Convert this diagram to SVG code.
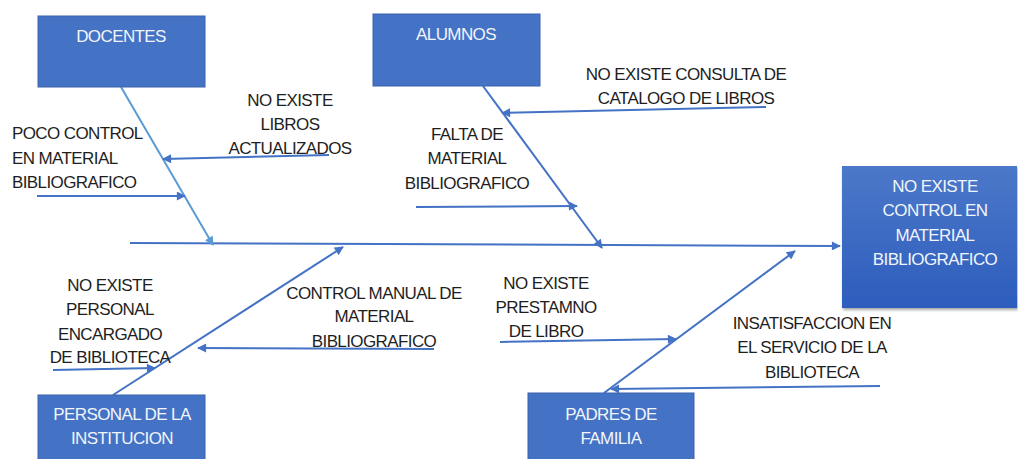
<svg xmlns="http://www.w3.org/2000/svg" width="1018" height="459" viewBox="0 0 1018 459">
<defs>
<style>
.box{fill:#4472C4;stroke:#3a62ad;stroke-width:1}
.bt{font-family:"Liberation Sans",Arial,sans-serif;font-size:17px;letter-spacing:-0.6px;fill:#f2f5fb;text-anchor:middle}
.lt{font-family:"Liberation Sans",Arial,sans-serif;font-size:17px;letter-spacing:-0.6px;fill:#1e1e1e;text-anchor:middle}
.ln{stroke:#4472C4;stroke-width:2;fill:none;marker-end:url(#ah)}
.ln2{stroke:#5B9BD5;stroke-width:2;fill:none;marker-end:url(#ah2)}
</style>
<marker id="ah" viewBox="0 0 10 10" refX="9" refY="5" markerWidth="10" markerHeight="9" markerUnits="userSpaceOnUse" orient="auto"><path d="M0,0 L10,5 L0,10 z" fill="#4472C4"/></marker>
<marker id="ah2" viewBox="0 0 10 10" refX="9" refY="5" markerWidth="10" markerHeight="9" markerUnits="userSpaceOnUse" orient="auto"><path d="M0,0 L10,5 L0,10 z" fill="#5B9BD5"/></marker>
<linearGradient id="eg" x1="0" y1="0" x2="0" y2="1"><stop offset="0" stop-color="#4c78c9"/><stop offset="1" stop-color="#2d5dbd"/></linearGradient>
<filter id="sh" x="-10%" y="-10%" width="130%" height="130%"><feDropShadow dx="1" dy="2" stdDeviation="1.5" flood-color="#000" flood-opacity="0.35"/></filter>
</defs>
<rect width="1018" height="459" fill="#ffffff"/>
<g id="connectors">
<line class="ln" x1="130" y1="243" x2="840" y2="246"/>
<line class="ln2" x1="121" y1="87" x2="213" y2="245"/>
<line class="ln" x1="483" y1="86" x2="602" y2="248"/>
<line class="ln" x1="113" y1="395" x2="343" y2="247"/>
<line class="ln" x1="604" y1="393" x2="795" y2="251"/>
<line class="ln" x1="329" y1="155" x2="163" y2="159"/>
<line class="ln" x1="37" y1="196" x2="185" y2="196"/>
<line class="ln" x1="766" y1="107" x2="502" y2="113"/>
<line class="ln" x1="416" y1="207" x2="577" y2="206"/>
<line class="ln" x1="53" y1="370" x2="155" y2="368"/>
<line class="ln" x1="434" y1="349" x2="198" y2="348"/>
<line class="ln" x1="500" y1="342" x2="676" y2="339"/>
<line class="ln" x1="880" y1="386" x2="611" y2="389"/>
</g>
<g id="docentes"><rect class="box" x="38" y="16" width="167" height="71"/><text class="bt" x="121" y="42">DOCENTES</text></g>
<g id="alumnos"><rect class="box" x="373" y="14" width="167" height="72"/><text class="bt" x="456" y="40">ALUMNOS</text></g>
<g id="personal"><rect class="box" x="38" y="395" width="167" height="70"/><text class="bt" x="122" y="420">PERSONAL DE LA</text><text class="bt" x="122" y="444">INSTITUCION</text></g>
<g id="padres"><rect class="box" x="528" y="393" width="166" height="72"/><text class="bt" x="611" y="420">PADRES DE</text><text class="bt" x="611" y="444">FAMILIA</text></g>
<g id="efecto"><rect x="842" y="166" width="175" height="142" fill="url(#eg)" filter="url(#sh)"/><text class="bt" x="935" y="192">NO EXISTE</text><text class="bt" x="935" y="216">CONTROL EN</text><text class="bt" x="935" y="241">MATERIAL</text><text class="bt" x="935" y="265">BIBLIOGRAFICO</text></g>
<g id="c1"><text class="lt" x="290" y="106">NO EXISTE</text><text class="lt" x="290" y="130">LIBROS</text><text class="lt" x="290" y="154">ACTUALIZADOS</text></g>
<g id="c2"><text class="lt" x="12" y="139" style="text-anchor:start">POCO CONTROL</text><text class="lt" x="12" y="164" style="text-anchor:start">EN MATERIAL</text><text class="lt" x="12" y="188" style="text-anchor:start">BIBLIOGRAFICO</text></g>
<g id="c3"><text class="lt" x="686" y="80">NO EXISTE CONSULTA DE</text><text class="lt" x="686" y="104">CATALOGO DE LIBROS</text></g>
<g id="c4"><text class="lt" x="467" y="140">FALTA DE</text><text class="lt" x="467" y="164">MATERIAL</text><text class="lt" x="467" y="189">BIBLIOGRAFICO</text></g>
<g id="c5"><text class="lt" x="110" y="291">NO EXISTE</text><text class="lt" x="110" y="315">PERSONAL</text><text class="lt" x="110" y="340">ENCARGADO</text><text class="lt" x="110" y="363">DE BIBLIOTECA</text></g>
<g id="c6"><text class="lt" x="374" y="299">CONTROL MANUAL DE</text><text class="lt" x="374" y="322">MATERIAL</text><text class="lt" x="374" y="347">BIBLIOGRAFICO</text></g>
<g id="c7"><text class="lt" x="546" y="289">NO EXISTE</text><text class="lt" x="546" y="313">PRESTAMNO</text><text class="lt" x="546" y="337">DE LIBRO</text></g>
<g id="c8"><text class="lt" x="812" y="329">INSATISFACCION EN</text><text class="lt" x="812" y="353">EL SERVICIO DE LA</text><text class="lt" x="812" y="378">BIBLIOTECA</text></g>
</svg>
